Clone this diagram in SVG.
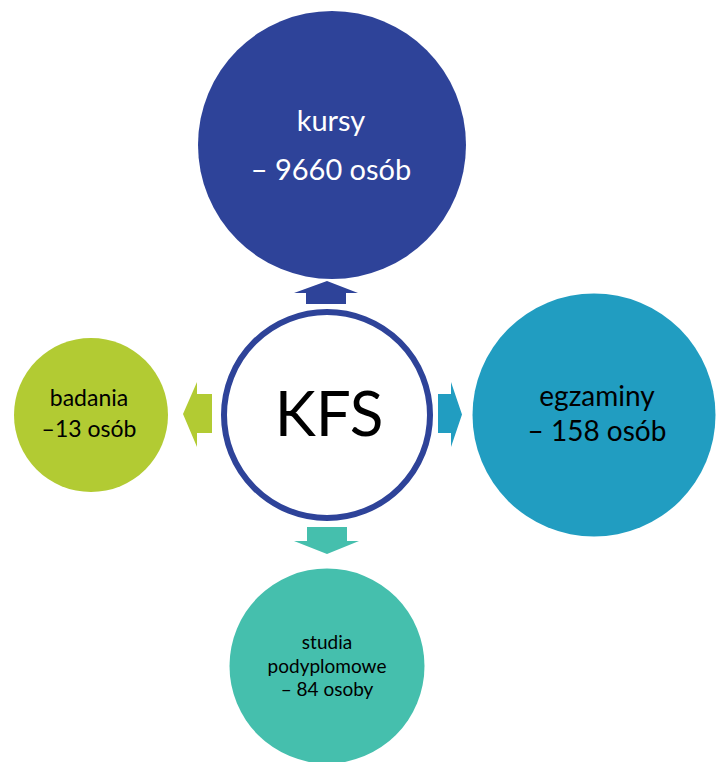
<svg xmlns="http://www.w3.org/2000/svg" width="720" height="762" viewBox="0 0 720 762">
<style>
text{font-family:Lato,"Open Sans","Liberation Sans",sans-serif;text-anchor:middle}
.w{fill:#ffffff}
.k{fill:#000000}
</style>
<rect width="720" height="762" fill="#ffffff"/>
<g id="connectors">
<polygon fill="#2E4399" points="327,281 358,293 346,293 346,304 306,304 306,293 294,293"/>
<polygon fill="#B2CB33" points="183,414 197,382 197,394 212,394 212,433 197,433 197,447"/>
<polygon fill="#219DC1" points="462,414.5 451,382 451,394 438,394 438,433 451,433 451,447"/>
<polygon fill="#45BFAD" points="327,554 359,541 347,541 347,527 307,527 307,541 294,541"/>
</g>
<g id="kursy">
<circle cx="332" cy="145" r="134" fill="#2E4399"/>
<text class="w" x="331" y="131" font-size="29">kursy</text>
<text class="w" x="331" y="180" font-size="29">– 9660 osób</text>
</g>
<g id="egzaminy">
<circle cx="594" cy="415" r="121.5" fill="#219DC1"/>
<text class="k" x="597" y="406" font-size="28">egzaminy</text>
<text class="k" x="597" y="441" font-size="28">– 158 osób</text>
</g>
<g id="badania">
<circle cx="91" cy="415" r="77" fill="#B2CB33"/>
<text class="k" x="89" y="406" font-size="23">badania</text>
<text class="k" x="89" y="437" font-size="23">–13 osób</text>
</g>
<g id="studia">
<circle cx="327" cy="666" r="97.5" fill="#45BFAD"/>
<text class="k" x="327" y="649" font-size="19">studia</text>
<text class="k" x="327" y="673" font-size="19">podyplomowe</text>
<text class="k" x="327" y="696" font-size="19">– 84 osoby</text>
</g>
<g id="kfs">
<circle cx="327" cy="415" r="103" fill="#ffffff" stroke="#2E4399" stroke-width="6"/>
<text class="k" x="329" y="436" font-size="62">KFS</text>
</g>
</svg>
